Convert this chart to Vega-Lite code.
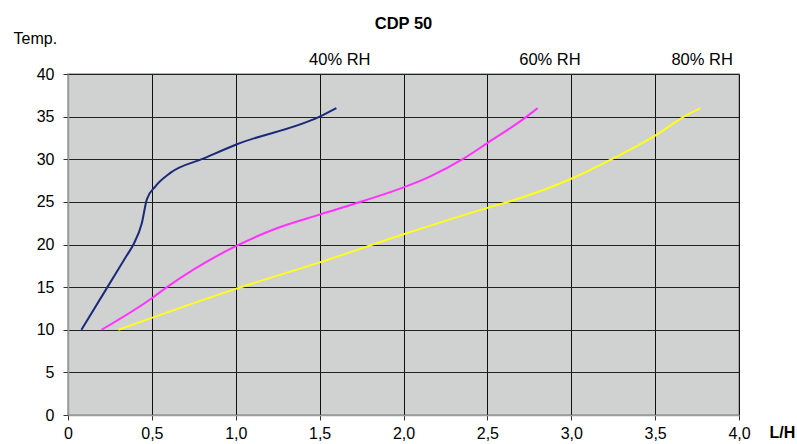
{
  "$schema": "https://vega.github.io/schema/vega-lite/v6.json",
  "width": 671,
  "height": 341,
  "autosize": {"type": "none"},
  "padding": {"left": 68, "top": 74, "right": 58, "bottom": 29},
  "background": "white",
  "config": {
    "font": "Liberation Sans",
    "view": {"fill": "#d0d1d1", "stroke": "#9a9a9a", "strokeWidth": 1.5}
  },
  "title": {"text": "CDP 50", "fontSize": 16.5, "fontWeight": "bold", "font": "Liberation Sans", "anchor": "middle", "offset": -2, "color": "black"},
  "datasets": {
    "curves": [
      {"series": "40% RH", "lh": 0.08, "temp": 10},
      {"series": "40% RH", "lh": 0.235, "temp": 15},
      {"series": "40% RH", "lh": 0.35, "temp": 18.7},
      {"series": "40% RH", "lh": 0.39, "temp": 20},
      {"series": "40% RH", "lh": 0.44, "temp": 22.5},
      {"series": "40% RH", "lh": 0.47, "temp": 25.3},
      {"series": "40% RH", "lh": 0.52, "temp": 26.8},
      {"series": "40% RH", "lh": 0.61, "temp": 28.4},
      {"series": "40% RH", "lh": 0.81, "temp": 30.1},
      {"series": "40% RH", "lh": 1.0, "temp": 31.7},
      {"series": "40% RH", "lh": 1.5, "temp": 35},
      {"series": "40% RH", "lh": 1.6, "temp": 36},
      {"series": "60% RH", "lh": 0.2, "temp": 10},
      {"series": "60% RH", "lh": 0.5, "temp": 13.7},
      {"series": "60% RH", "lh": 0.59, "temp": 15},
      {"series": "60% RH", "lh": 1.0, "temp": 19.8},
      {"series": "60% RH", "lh": 1.245, "temp": 21.9},
      {"series": "60% RH", "lh": 1.5, "temp": 23.5},
      {"series": "60% RH", "lh": 1.76, "temp": 25.1},
      {"series": "60% RH", "lh": 2.0, "temp": 26.7},
      {"series": "60% RH", "lh": 2.16, "temp": 28.0},
      {"series": "60% RH", "lh": 2.36, "temp": 30.1},
      {"series": "60% RH", "lh": 2.5, "temp": 31.9},
      {"series": "60% RH", "lh": 2.72, "temp": 34.8},
      {"series": "60% RH", "lh": 2.8, "temp": 36},
      {"series": "80% RH", "lh": 0.3, "temp": 10},
      {"series": "80% RH", "lh": 1.0, "temp": 14.8},
      {"series": "80% RH", "lh": 1.5, "temp": 17.9},
      {"series": "80% RH", "lh": 2.0, "temp": 21.2},
      {"series": "80% RH", "lh": 2.5, "temp": 24.3},
      {"series": "80% RH", "lh": 2.64, "temp": 25.1},
      {"series": "80% RH", "lh": 3.01, "temp": 27.8},
      {"series": "80% RH", "lh": 3.25, "temp": 30.1},
      {"series": "80% RH", "lh": 3.51, "temp": 32.9},
      {"series": "80% RH", "lh": 3.69, "temp": 35.2},
      {"series": "80% RH", "lh": 3.77, "temp": 36}
    ],
    "labels": [
      {"label": "40% RH", "lh": 1.62, "temp": 41.64},
      {"label": "60% RH", "lh": 2.873, "temp": 41.64},
      {"label": "80% RH", "lh": 3.78, "temp": 41.64}
    ]
  },
  "layer": [
    {
      "data": {"name": "curves"},
      "mark": {"type": "line", "interpolate": "monotone", "strokeWidth": 2},
      "encoding": {
        "x": {
          "field": "lh", "type": "quantitative",
          "scale": {"domain": [0, 4], "nice": false, "zero": true},
          "axis": {
            "values": [0, 0.5, 1, 1.5, 2, 2.5, 3, 3.5, 4],
            "labelExpr": "datum.value == 0 ? '0' : replace(format(datum.value, '.1f'), '.', ',')",
            "grid": true, "gridColor": "#111", "gridOpacity": 1, "gridWidth": 1,
            "domainColor": "#9a9a9a", "domainWidth": 1.5,
            "tickColor": "#333", "tickSize": 5,
            "labelFontSize": 16, "labelColor": "black", "labelPadding": 5, "labelFlush": false,
            "title": "L/H", "titleFontSize": 16, "titleFontWeight": "bold", "titleColor": "black",
            "titleX": 701, "titleY": 17.5, "titleAlign": "left", "titleBaseline": "middle", "titleAnchor": null
          }
        },
        "y": {
          "field": "temp", "type": "quantitative",
          "scale": {"domain": [0, 40], "nice": false},
          "axis": {
            "values": [0, 5, 10, 15, 20, 25, 30, 35, 40],
            "grid": true, "gridColor": "#222", "gridOpacity": 1, "gridWidth": 1,
            "domainColor": "#9a9a9a", "domainWidth": 1.5,
            "tickColor": "#333", "tickSize": 5,
            "labelFontSize": 16, "labelColor": "black", "labelPadding": 9,
            "title": "Temp.", "titleFontSize": 16, "titleFontWeight": "normal", "titleColor": "black",
            "titleAngle": 0, "titleX": -55, "titleY": -36, "titleAlign": "left", "titleBaseline": "middle"
          }
        },
        "color": {
          "field": "series", "type": "nominal",
          "scale": {"domain": ["40% RH", "60% RH", "80% RH"], "range": ["#1b2a78", "#ff33ff", "#ffff1a"]},
          "legend": null
        },
        "detail": {"field": "series"}
      }
    },
    {
      "data": {"name": "labels"},
      "mark": {"type": "text", "fontSize": 16.5, "color": "black", "align": "center", "baseline": "middle", "font": "Liberation Sans"},
      "encoding": {
        "x": {"field": "lh", "type": "quantitative"},
        "y": {"field": "temp", "type": "quantitative"},
        "text": {"field": "label"}
      }
    }
  ]
}
